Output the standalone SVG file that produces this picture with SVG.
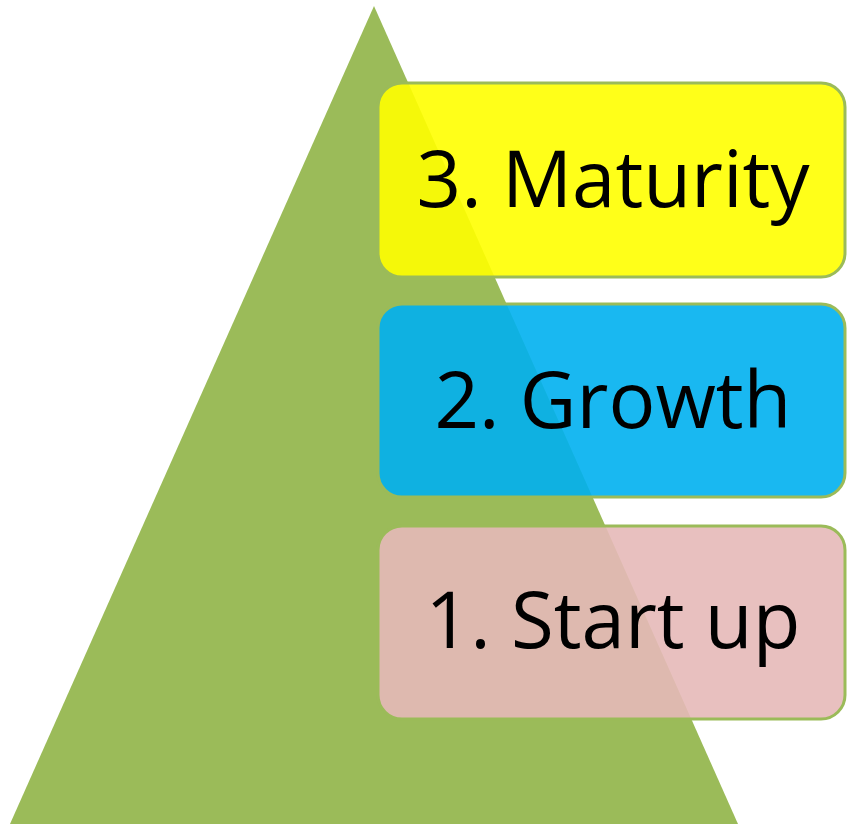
<svg xmlns="http://www.w3.org/2000/svg" width="847" height="824" viewBox="0 0 847 824">
<style>
.box{stroke:#9bbb59;stroke-width:3}
.lbl{font-family:"Open Sans","Noto Sans",sans-serif;font-size:78px;fill:#000;text-anchor:middle}
</style>
<rect width="847" height="824" fill="#fff"/>
<g id="pyramid"><polygon points="374,6 738,824 10,824" fill="#9bbb59"/></g>
<g id="maturity">
<rect class="box" x="378" y="83" width="467" height="194" rx="24" fill="#ffff00" fill-opacity="0.9"/>
<text class="lbl" x="613" y="207">3. Maturity</text>
</g>
<g id="growth">
<rect class="box" x="378" y="304" width="467" height="193" rx="24" fill="#00b0f0" fill-opacity="0.9"/>
<text class="lbl" x="613" y="428">2. Growth</text>
</g>
<g id="startup">
<rect class="box" x="378" y="526" width="467" height="193" rx="24" fill="#e6b9b8" fill-opacity="0.9"/>
<text class="lbl" x="613" y="648">1. Start up</text>
</g>
<g id="connectors"/>
</svg>
